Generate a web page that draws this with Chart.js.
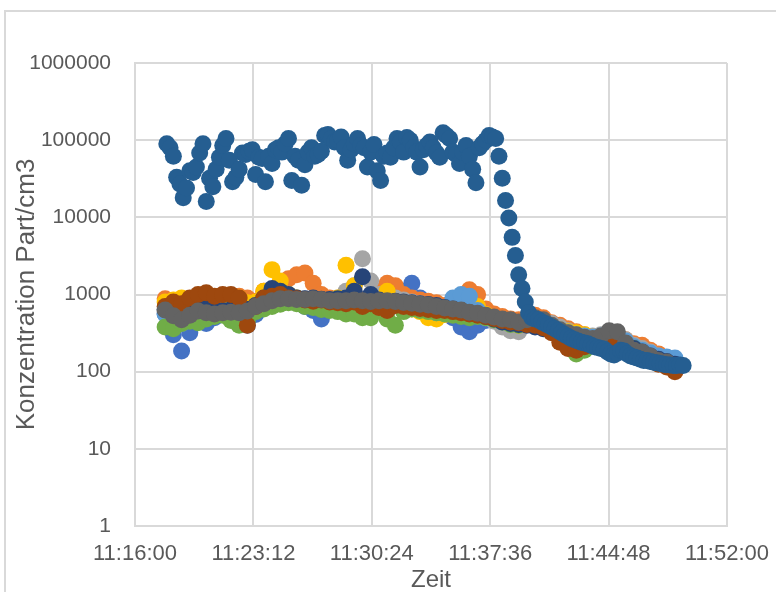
<!DOCTYPE html>
<html>
<head>
<meta charset="utf-8">
<script src="https://cdn.jsdelivr.net/npm/chart.js@4.4.1/dist/chart.umd.min.js"></script>
<style>
  html, body { margin: 0; padding: 0; background: #fff; }
  #wrap { position: relative; width: 776px; height: 592px; overflow: hidden; }
  #frame { position: absolute; left: 4px; top: 10px; width: 900px; height: 900px; border: 2px solid #d9d9d9; }
  canvas { position: absolute; left: 0; top: 0; }
</style>
</head>
<body>
<div id="wrap"><div id="frame"></div><canvas id="chart" width="776" height="592"></canvas></div>
<script>
// time axis (seconds after 11:16:00 are used internally)
const xMin = "11:16:00";
const xMax = "11:52:00";
const xStep = 432;
const yTicks = [1, 10, 100, 1000, 10000, 100000, 1000000];

// sampling of the measurement series
const lowStart = "11:17:50", lowStep = 30;
const highStart = "11:17:56", highStep = 12;

const blueVals = [560,300,185,320,480, 420,500,600,520,480, 400,550,700,900,1000, 950,800,700,620,480, 640,750,850,760,720, 680,700,620,800,1100, 1400,900,700,600,560, 500,380,330,400,460, 520,470,430,420,450, 480,420,370,330,300, 290,270,250,260,300, 290,220,180,170,150, 140,130,125];
const orangeVals = [880,820,750,720,800, 900,850,780,880,950, 900,820,1100,1100,1300, 1600,1800,1900,1400,1000, 900,850,800,900,850, 780,1100,1400,1300,1000, 900,850,820,780,720, 700,800,1150,1000,650, 560,520,480,470,500, 540,500,430,400,360, 330,300,280,280,300, 300,260,230,220,190, 170,150,110];
const grayVals = [600,560,520,560,600, 620,600,640,620,600, 650,720,800,900,1000, 950,900,880,850,800, 820,900,1100,1300,2900, 1500,1000,950,900,850, 800,760,720,680,650, 620,600,580,560,500, 450,380,340,330,420, 480,450,420,380,340, 310,290,290,300,320, 310,260,220,200,180, 160,140,125];
const yellowVals = [800,850,900,780,900, 950,920,880,850,900, 780,800,1100,2100,1500, 1000,900,850,800,750, 760,900,2400,1300,800, 700,760,1100,800,700, 650,600,500,480,550, 650,700,850,700,550, 500,460,420,400,430, 460,430,380,350,330, 320,300,280,270,280, 260,220,200,180,160, 140,125,110];
const lightBlueVals = [560,450,420,500,560, 600,580,560,600,620, 580,650,750,850,900, 920,880,850,820,780, 800,820,800,780,760, 740,760,780,750,700, 680,650,620,580,620, 900,1000,950,620,520, 480,450,430,420,440, 460,430,390,350,320, 300,290,280,290,300, 290,250,210,190,175, 160,155,150];
const greenVals = [380,360,420,450,430, 480,520,540,460,400, 460,600,650,700,750, 780,760,700,680,640, 620,600,560,560,500, 500,640,480,400,600, 650,620,600,580,560, 540,520,500,520,500, 470,440,410,400,430, 460,440,380,330,220, 170,190,230,260,280, 270,230,200,170,150, 140,130,120];
const darkBlueVals = [640,580,560,600,640, 660,640,620,640,660, 640,720,900,1200,1100, 1000,900,880,900,870, 860,880,900,1100,1700, 1000,850,800,820,800, 780,760,740,720,680, 650,620,580,560,520, 480,440,420,410,400, 380,360,340,320,300, 280,270,260,250,240, 230,220,200,180,160, 145,135,125];
const brownVals = [700,800,760,900,1000, 1050,950,1000,1000,900, 400,700,900,950,1000, 900,880,850,820,850, 800,780,760,800,700, 760,680,620,720,700, 680,660,640,620,620, 600,580,560,540,520, 490,460,440,430,410, 400,370,320,240,200, 190,210,230,240,260, 250,210,180,160,140, 125,115,100];
const darkGrayVals = [630,530,470,540,610, 580,560,580,590,580, 610,700,760,830,880, 880,860,860,880,860, 830,830,830,850,830, 810,830,830,810,790, 770,750,730,700,670, 650,630,590,570,540, 510,480,470,440,470, 500,470,400,350,320, 300,280,270,290,340, 330,235,190,180,160, 140,133,120];
const highVals = [90000,80000,62000,33000,27000,18000,24000,40000,38000,45000,
  68000,90000,16000,32000,25000,42000,60000,85000,105000,55000,
  29000,33000,42000,68000,65000,72000,75000,36000,60000,58000,
  29000,62000,50000,75000,80000,70000,90000,105000,30000,62000,
  55000,26000,48000,70000,80000,62000,65000,72000,115000,118000,
  105000,95000,100000,110000,80000,55000,75000,90000,105000,85000,
  80000,45000,70000,88000,40000,30000,62000,68000,60000,80000,
  105000,95000,70000,108000,100000,80000,70000,45000,75000,85000,
  95000,80000,68000,60000,125000,115000,105000,70000,65000,50000,
  70000,85000,62000,42000,28000,80000,90000,100000,115000,110000,
  105000,62000,32000,16500,9800,5500,3200,1800,1200,800,
  580,500,480,470,440,420,400,380,360,340,
  320,300,285,270,260,250,240,235,230,220,
  210,205,200,195,180,170,165,175,190,185,
  170,160,155,150,145,140,140,135,132,130,
  128,125,123,122,120,120,122,120];

const seriesColors = ["#4472C4", "#ED7D31", "#A5A5A5", "#FFC000", "#5B9BD5", "#70AD47", "#264478", "#9E480E", "#636363", "#255E91"];

const toSec0 = 11 * 3600 + 16 * 60;
function toSec(t) {
  const p = t.split(":").map(Number);
  return p[0] * 3600 + p[1] * 60 + p[2] - toSec0;
}
function fmt(s) {
  const t = Math.round(s + toSec0);
  const h = Math.floor(t / 3600), m = Math.floor(t / 60) % 60, sec = t % 60;
  return h + ":" + String(m).padStart(2, "0") + ":" + String(sec).padStart(2, "0");
}
function points(vals, start, step) {
  const s0 = toSec(start);
  return vals.map((v, i) => ({ x: s0 + i * step, y: v }));
}

const allSeries = [
  points(blueVals, lowStart, lowStep),
  points(orangeVals, lowStart, lowStep),
  points(grayVals, lowStart, lowStep),
  points(yellowVals, lowStart, lowStep),
  points(lightBlueVals, lowStart, lowStep),
  points(greenVals, lowStart, lowStep),
  points(darkBlueVals, lowStart, lowStep),
  points(brownVals, lowStart, lowStep),
  points(darkGrayVals, lowStart, lowStep),
  points(highVals, highStart, highStep),
];

const textColor = "#595959";
const gridColor = "#d9d9d9";

new Chart(document.getElementById("chart"), {
  type: "scatter",
  data: {
    datasets: allSeries.map((d, k) => ({
      label: "Reihe" + (k + 1),
      data: d,
      // later Excel series sit on top
      order: allSeries.length - 1 - k,
      backgroundColor: seriesColors[k],
      borderWidth: 0,
      pointRadius: 8.5,
      pointHoverRadius: 8.5,
    })),
  },
  options: {
    responsive: false,
    animation: false,
    layout: { padding: { left: 0, top: 63, right: 49, bottom: 0 } },
    plugins: { legend: { display: false }, tooltip: { enabled: false } },
    scales: {
      x: {
        type: "linear",
        min: toSec(xMin),
        max: toSec(xMax),
        afterFit: (s) => { s.height = 66; s.paddingLeft = 0; s.paddingRight = 0; },
        ticks: {
          stepSize: xStep,
          padding: 15,
          color: textColor,
          font: { family: "Liberation Sans", size: 22 },
          callback: (v) => fmt(v),
        },
        grid: { color: gridColor, lineWidth: 2, drawTicks: false },
        border: { color: gridColor, width: 2 },
        title: {
          display: true,
          text: "Zeit",
          color: textColor,
          font: { family: "Liberation Sans", size: 24, lineHeight: 1 },
          padding: { top: 0, bottom: 0 },
        },
      },
      y: {
        type: "logarithmic",
        min: 1,
        max: 1000000,
        afterFit: (s) => { s.width = 135; },
        afterBuildTicks: (s) => { s.ticks = yTicks.map((v) => ({ value: v })); },
        ticks: {
          padding: 24,
          color: textColor,
          font: { family: "Liberation Sans", size: 21 },
          callback: (v) => String(v),
        },
        grid: { color: gridColor, lineWidth: 2, drawTicks: false },
        border: { color: gridColor, width: 2 },
        title: {
          display: true,
          text: "Konzentration Part/cm3",
          color: textColor,
          font: { family: "Liberation Sans", size: 26, lineHeight: 1 },
          padding: { top: 14, bottom: 0 },
        },
      },
    },
  },
});
</script>
</body>
</html>
